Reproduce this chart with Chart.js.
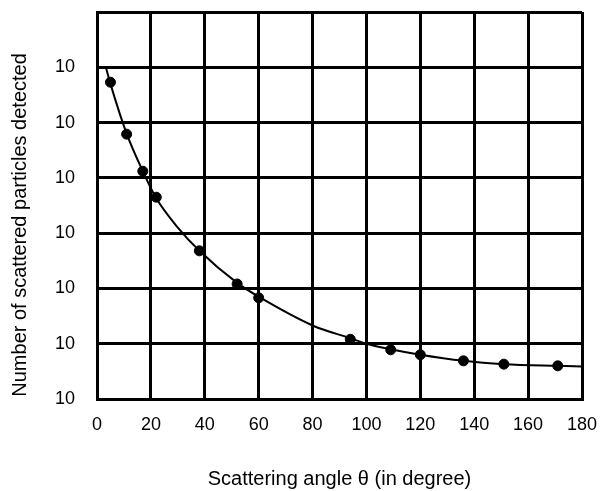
<!DOCTYPE html>
<html>
<head>
<meta charset="utf-8">
<script src="https://cdn.jsdelivr.net/npm/chart.js@4/dist/chart.umd.min.js"></script>
<style>
  html, body { margin: 0; padding: 0; background: #fff; }
  #wrap { width: 603px; height: 491px; }
</style>
</head>
<body>
<div id="wrap"><canvas id="chart"></canvas></div>
<script>
// measured points (angle in degrees, count as power of ten)
const angles = [5, 11, 17, 22, 38, 52, 60, 94, 109, 120, 136, 151, 171];
const counts = [5.73, 4.79, 4.12, 3.65, 2.68, 2.08, 1.83, 1.08, 0.89, 0.80, 0.69, 0.63, 0.60];

// fitted curve
const curveAngles = [3.3, 5, 11, 17, 22, 30, 38, 52, 60, 80, 94, 100, 109, 120, 136, 151, 171, 180];
const curveCounts = [6.0, 5.7, 4.8, 4.12, 3.63, 3.1, 2.68, 2.1, 1.85, 1.33, 1.1, 1.0, 0.9, 0.8, 0.69, 0.63, 0.60, 0.59];

// y tick labels (exponents are missing in the original)
const yTickLabels = ['10', '10', '10', '10', '10', '10', '10', ''];

const font = "'Liberation Sans', Arial, sans-serif";

const ctx = document.getElementById('chart').getContext('2d');
new Chart(ctx, {
  type: 'scatter',
  data: {
    datasets: [
      {
        label: 'Curve',
        data: curveAngles.map((a, i) => ({ x: a, y: curveCounts[i] })),
        showLine: true,
        borderColor: '#000',
        borderWidth: 2,
        pointRadius: 0,
        cubicInterpolationMode: 'monotone'
      },
      {
        label: 'Measured',
        data: angles.map((a, i) => ({ x: a, y: counts[i] })),
        backgroundColor: '#000',
        borderColor: '#000',
        pointRadius: 5,
        pointHoverRadius: 5
      }
    ]
  },
  options: {
    responsive: true,
    maintainAspectRatio: false,
    animation: false,
    layout: { padding: { left: 0, right: 21, top: 12, bottom: 0 } },
    plugins: {
      legend: { display: false },
      tooltip: { enabled: false }
    },
    scales: {
      x: {
        type: 'linear',
        min: 0,
        max: 180,
        afterFit: (scale) => {
          scale.height = 92;
          scale.paddingLeft = 0;
          scale.paddingRight = 0;
        },
        ticks: {
          stepSize: 20,
          color: '#000',
          padding: 15,
          font: { family: font, size: 18 }
        },
        grid: { color: '#000', lineWidth: 3, drawTicks: false },
        border: { color: '#000', width: 3 },
        title: {
          display: true,
          text: 'Scattering angle θ (in degree)',
          color: '#000',
          font: { family: font, size: 20 },
          padding: { top: 0, bottom: 0 }
        }
      },
      y: {
        type: 'linear',
        min: 0,
        max: 7,
        afterFit: (scale) => {
          scale.width = 97;
          scale.paddingTop = 0;
          scale.paddingBottom = 0;
        },
        ticks: {
          stepSize: 1,
          color: '#000',
          padding: 22,
          font: { family: font, size: 18 },
          callback: (v) => yTickLabels[v]
        },
        grid: { color: '#000', lineWidth: 3, drawTicks: false },
        border: { color: '#000', width: 3 },
        title: {
          display: true,
          text: 'Number of scattered particles detected       ',
          color: '#000',
          font: { family: font, size: 20 },
          padding: { top: 8, bottom: 0 }
        }
      }
    }
  }
});
</script>
</body>
</html>
